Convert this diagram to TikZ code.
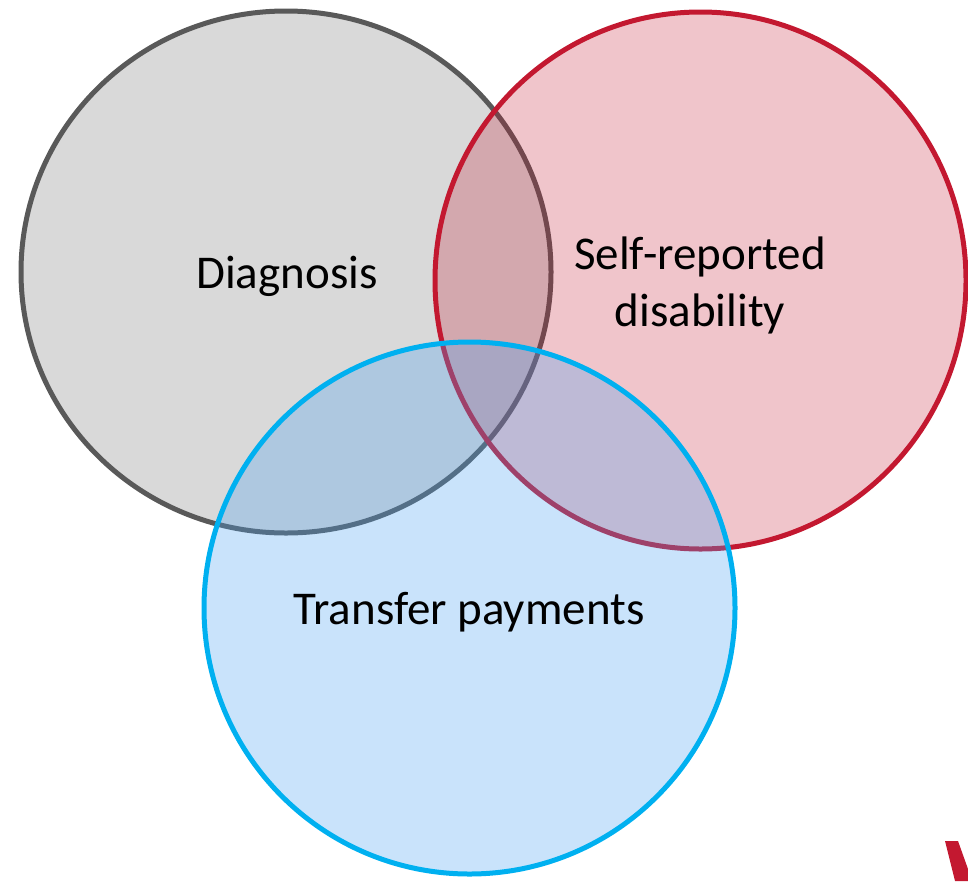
\documentclass[tikz,border=0pt]{standalone}
\usepackage{fontspec}
\setmainfont{Carlito}
\definecolor{grayfill}{RGB}{217,217,217}
\definecolor{graydraw}{RGB}{89,89,89}
\definecolor{redc}{RGB}{195,24,48}
\definecolor{bluefill}{RGB}{75,162,242}
\definecolor{bluedraw}{RGB}{0,176,240}
\tikzset{
  setlabel/.style={font=\fontsize{47}{57}\selectfont, text=black, align=center, inner sep=0pt},
  ring/.style={line width=5pt},
}
\begin{document}
\begin{tikzpicture}[x=1pt,y=-1pt]
\useasboundingbox (0,0) rectangle (968,881);
% gray
\draw[ring, fill=grayfill, draw=graydraw] (286,272) ellipse [x radius=265, y radius=261];
% red
\fill[redc, fill opacity=0.25] (700.5,280.5) ellipse [x radius=265.5, y radius=268.5];
\draw[ring, draw=redc] (700.5,280.5) ellipse [x radius=265.5, y radius=268.5];
% blue
\fill[bluefill, fill opacity=0.3] (469.5,608) ellipse [x radius=265.5, y radius=266];
\draw[ring, draw=bluedraw] (469.5,608) ellipse [x radius=265.5, y radius=266];
% labels
\node[setlabel] (diag) at (287,276) {Diagnosis};
\node[setlabel] (self) at (700,285) {Self-reported\\disability};
\node[setlabel] (trans) at (469,612) {Transfer payments};
% partial red letter at corner
\fill[redc] (945,841) -- (958,841) -- (968,869) -- (968,881) -- (955,881) -- cycle;
\end{tikzpicture}
\end{document}
